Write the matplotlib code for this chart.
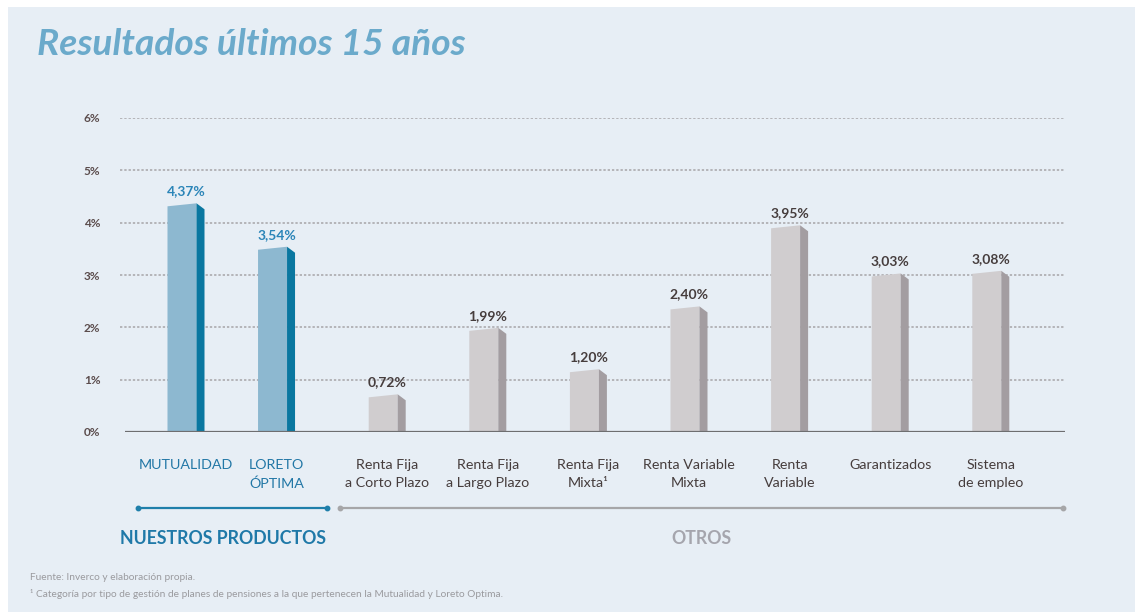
import matplotlib
matplotlib.use("Agg")
import matplotlib.pyplot as plt
from matplotlib.patches import Polygon, Rectangle
import numpy as np

# ---------------- data ----------------
categories = ["MUTUALIDAD", "LORETO\nÓPTIMA",
              "Renta Fija\na Corto Plazo", "Renta Fija\na Largo Plazo", "Renta Fija\nMixta¹",
              "Renta Variable\nMixta", "Renta\nVariable", "Garantizados", "Sistema\nde empleo"]
values = [4.37, 3.54, 0.72, 1.99, 1.20, 2.40, 3.95, 3.03, 3.08]
value_labels = ["4,37%", "3,54%", "0,72%", "1,99%", "1,20%", "2,40%", "3,95%", "3,03%", "3,08%"]
groups = ["own", "own", "other", "other", "other", "other", "other", "other", "other"]
ytick_values = [0, 1, 2, 3, 4, 5, 6]
ytick_labels = ["0%", "1%", "2%", "3%", "4%", "5%", "6%"]
title = "Resultados últimos 15 años"
group_names = ["NUESTROS PRODUCTOS", "OTROS"]
footnotes = ["Fuente: Inverco y elaboración propia.",
             "¹ Categoría por tipo de gestión de planes de pensiones a la que pertenecen la Mutualidad y Loreto Optima."]

# ---------------- style ----------------
FONT = "Lato"
BG = "#E7EEF5"
front_col = {"own": "#8DB8D0", "other": "#D0CDCF"}
side_col = {"own": "#0A77A0", "other": "#A39DA1"}
val_col = {"own": "#2B85B8", "other": "#463D3D"}
cat_col = {"own": "#2277A6", "other": "#463D3D"}

W, H = 1135, 612
fig = plt.figure(figsize=(W / 100, H / 100), dpi=100, facecolor="white")
fig.patches.append(Rectangle((8 / W, 0), 1 - 8 / W, 1 - 7 / H, transform=fig.transFigure,
                             facecolor=BG, edgecolor="none", zorder=-10))

# axes placement in pixels
ax_left, ax_right = 120, 1065
y0_px, y6_px = 432, 118
ax = fig.add_axes([ax_left / W, 1 - y0_px / H, (ax_right - ax_left) / W, (y0_px - y6_px) / H])
ax.set_facecolor("none")

# positions: small gap between groups
positions = []
for i, g in enumerate(groups):
    if g == "own":
        positions.append(i * 0.9)
    else:
        positions.append(float(i))
positions = np.array(positions)

px_per_unit = 100.6
x_first_px = 186
ax.set_xlim((ax_left - x_first_px) / px_per_unit, (ax_right - x_first_px) / px_per_unit)
ax.set_ylim(0, 6)

ypx = (y0_px - y6_px) / 6.0  # pixels per 1%

# grid
for v in ytick_values[1:]:
    ax.axhline(v, color="#B4B4B8", lw=1.4, linestyle=(0, (1.2, 1.0)), zorder=1)
# baseline
base_start = (125 - x_first_px) / px_per_unit
ax.plot([base_start, ax.get_xlim()[1]], [0, 0], color="#6E6E70", lw=1.6, zorder=5, solid_capstyle="butt")

front_w = 29 / px_per_unit
side_w = 8 / px_per_unit
slant = 3 / ypx
side_drop = 6 / ypx
for x, v, g, lab in zip(positions, values, groups, value_labels):
    fl = x - (front_w + side_w) / 2
    fr = fl + front_w
    sr = fr + side_w
    ax.add_patch(Polygon([(fl, 0), (fl, v - slant), (fr, v), (fr, 0)], closed=True,
                         facecolor=front_col[g], edgecolor="none", zorder=3))
    ax.add_patch(Polygon([(fr, 0), (fr, v), (sr, v - side_drop), (sr, 0)], closed=True,
                         facecolor=side_col[g], edgecolor="none", zorder=3))
    ax.text(x, v + 6 / ypx, lab, ha="center", va="bottom", fontsize=10, color=val_col[g],
            family=FONT, fontweight="bold", zorder=6)

# y ticks
ax.set_yticks(ytick_values)
ax.set_yticklabels(ytick_labels, family=FONT, fontsize=8.5, fontweight="bold", color="#5B4C4C")
ax.tick_params(axis="y", length=0, pad=14)
ax.set_xticks([])
for s in ax.spines.values():
    s.set_visible(False)

# category labels
cat_y = -(459 - y0_px) / ypx
for x, c, g in zip(positions, categories, groups):
    ax.text(x, cat_y, c, ha="center", va="top", fontsize=10.3, color=cat_col[g], family=FONT,
            linespacing=1.6, clip_on=False)

# group brackets
br_y = -(508 - y0_px) / ypx
own_x = positions[[i for i, g in enumerate(groups) if g == "own"]]
oth_x = positions[[i for i, g in enumerate(groups) if g == "other"]]
b1 = (own_x.min() - 0.48, own_x.max() + 0.5)
b2 = (oth_x.min() - 0.47, oth_x.max() + 0.72)
ax.plot(b1, [br_y, br_y], color="#1F7FAA", lw=1.6, marker="o", ms=3.2, clip_on=False)
ax.plot(b2, [br_y, br_y], color="#A6A6A8", lw=1.6, marker="o", ms=3.2, clip_on=False)
gl_y = -(538 - y0_px) / ypx
ax.text(np.mean(b1) - 0.09, gl_y, group_names[0], ha="center", va="center", fontsize=12.8,
        fontweight="bold", color="#1F79A8", family=FONT, clip_on=False)
ax.text(oth_x.min() + 3.12, gl_y, group_names[1], ha="center", va="center", fontsize=12.8,
        fontweight="bold", color="#A5A5AD", family=FONT, clip_on=False)

# title
fig.text(37 / W, 1 - 55 / H, title, ha="left", va="baseline", fontsize=26.7, fontweight="bold",
         fontstyle="italic", color="#6BAACB", family=FONT)

# footnotes
fig.text(30 / W, 1 - 578 / H, footnotes[0], ha="left", va="center", fontsize=7.3,
         color="#9A9A9E", family=FONT)
fig.text(30 / W, 1 - 594 / H, footnotes[1], ha="left", va="center", fontsize=7.3,
         color="#9A9A9E", family=FONT)

fig.savefig("out.png", dpi=100, facecolor="white")
